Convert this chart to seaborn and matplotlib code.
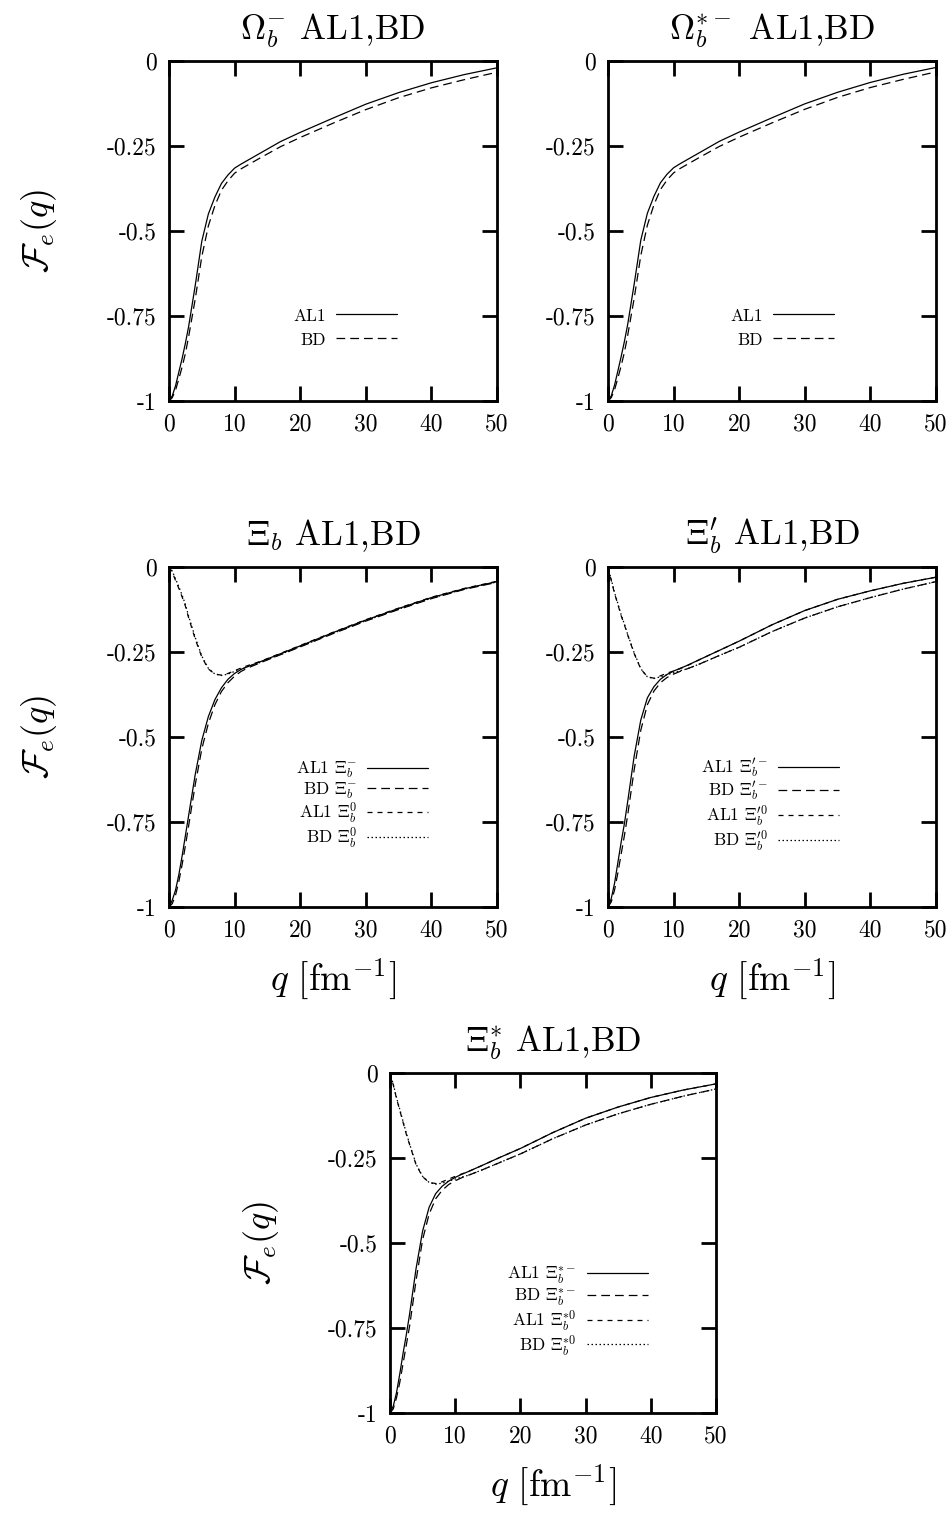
import matplotlib
matplotlib.use("Agg")
import matplotlib.pyplot as plt
import seaborn as sns

# momentum transfer grid
q = [0, 0.5, 1, 1.5, 2, 2.5, 3, 4, 5, 6, 7, 8, 9, 10, 11, 12, 14, 17, 20, 25, 30, 35, 40, 45, 50]

# Omega_b^-
omega_al1 = [-1, -0.985, -0.955, -0.915, -0.875, -0.83, -0.78, -0.66, -0.53, -0.45, -0.40, -0.36, -0.335,
             -0.315, -0.303, -0.292, -0.27, -0.237, -0.21, -0.168, -0.127, -0.093, -0.064, -0.04, -0.02]
omega_bd = [-1, -0.99, -0.968, -0.935, -0.90, -0.86, -0.81, -0.70, -0.575, -0.485, -0.425, -0.38, -0.352,
            -0.33, -0.317, -0.306, -0.284, -0.252, -0.225, -0.183, -0.143, -0.108, -0.079, -0.055, -0.033]

# Omega_b^*-
omegastar_al1 = [-1, -0.985, -0.953, -0.912, -0.87, -0.825, -0.775, -0.655, -0.527, -0.448, -0.398, -0.358, -0.333,
                 -0.314, -0.302, -0.291, -0.269, -0.236, -0.209, -0.167, -0.126, -0.092, -0.063, -0.039, -0.019]
omegastar_bd = [-1, -0.99, -0.967, -0.933, -0.897, -0.857, -0.807, -0.697, -0.572, -0.483, -0.423, -0.378, -0.35,
                -0.329, -0.316, -0.305, -0.283, -0.251, -0.224, -0.182, -0.142, -0.107, -0.078, -0.054, -0.032]

# Xi_b
xi_al1_m = [-1, -0.98, -0.95, -0.905, -0.85, -0.79, -0.73, -0.61, -0.51, -0.44, -0.39, -0.355, -0.33,
            -0.313, -0.301, -0.293, -0.278, -0.255, -0.232, -0.193, -0.156, -0.122, -0.09, -0.064, -0.043]
xi_bd_m = [-1, -0.99, -0.965, -0.925, -0.875, -0.82, -0.76, -0.64, -0.535, -0.46, -0.405, -0.366, -0.34,
           -0.321, -0.307, -0.297, -0.281, -0.258, -0.235, -0.196, -0.159, -0.125, -0.093, -0.066, -0.045]
xi_al1_0 = [0, -0.015, -0.04, -0.063, -0.088, -0.115, -0.15, -0.212, -0.265, -0.30, -0.315, -0.318, -0.313,
            -0.305, -0.297, -0.29, -0.277, -0.254, -0.231, -0.192, -0.155, -0.121, -0.089, -0.063, -0.042]
xi_bd_0 = [0, -0.012, -0.035, -0.058, -0.083, -0.11, -0.145, -0.207, -0.262, -0.298, -0.315, -0.319, -0.315,
           -0.307, -0.30, -0.293, -0.28, -0.257, -0.234, -0.195, -0.158, -0.124, -0.092, -0.065, -0.044]

# Xi_b'
xip_al1_m = [-1, -0.975, -0.93, -0.87, -0.81, -0.755, -0.69, -0.555, -0.45, -0.385, -0.352, -0.33, -0.316,
             -0.306, -0.298, -0.29, -0.272, -0.245, -0.218, -0.17, -0.128, -0.095, -0.07, -0.048, -0.03]
xip_bd_m = [-1, -0.985, -0.95, -0.90, -0.845, -0.79, -0.73, -0.595, -0.48, -0.405, -0.365, -0.34, -0.325,
            -0.315, -0.307, -0.30, -0.285, -0.26, -0.236, -0.19, -0.15, -0.117, -0.09, -0.065, -0.043]
xip_al1_0 = [0, -0.04, -0.078, -0.11, -0.143, -0.17, -0.20, -0.255, -0.30, -0.323, -0.327, -0.32, -0.312,
             -0.306, -0.299, -0.291, -0.272, -0.245, -0.218, -0.17, -0.128, -0.095, -0.07, -0.048, -0.03]
xip_bd_0 = [0, -0.037, -0.075, -0.107, -0.14, -0.168, -0.198, -0.253, -0.299, -0.323, -0.328, -0.323, -0.317,
            -0.311, -0.305, -0.30, -0.285, -0.26, -0.236, -0.19, -0.15, -0.117, -0.09, -0.065, -0.043]

# Xi_b^*
xis_al1_m = [-1, -0.98, -0.94, -0.885, -0.825, -0.77, -0.71, -0.575, -0.465, -0.395, -0.355, -0.333, -0.318,
             -0.307, -0.298, -0.29, -0.273, -0.247, -0.222, -0.175, -0.133, -0.10, -0.072, -0.05, -0.032]
xis_bd_m = [-1, -0.988, -0.955, -0.91, -0.855, -0.80, -0.745, -0.61, -0.49, -0.415, -0.37, -0.345, -0.328,
            -0.317, -0.308, -0.301, -0.286, -0.262, -0.238, -0.193, -0.153, -0.12, -0.092, -0.068, -0.047]
xis_al1_0 = [0, -0.035, -0.075, -0.11, -0.145, -0.18, -0.21, -0.27, -0.305, -0.322, -0.325, -0.32, -0.312,
             -0.304, -0.297, -0.29, -0.273, -0.247, -0.222, -0.175, -0.133, -0.10, -0.072, -0.05, -0.032]
xis_bd_0 = [0, -0.033, -0.072, -0.107, -0.142, -0.177, -0.208, -0.268, -0.304, -0.322, -0.327, -0.324, -0.318,
            -0.312, -0.306, -0.301, -0.286, -0.262, -0.238, -0.193, -0.153, -0.12, -0.092, -0.068, -0.047]

xticks = [0, 10, 20, 30, 40, 50]
yticks = [0, -0.25, -0.5, -0.75, -1]
ytick_labels = ["0", "-0.25", "-0.5", "-0.75", "-1"]

sns.set_style("ticks")
plt.rcParams["font.family"] = ["cmr10", "DejaVu Serif"]
plt.rcParams["mathtext.fontset"] = "cm"
plt.rcParams["axes.unicode_minus"] = False
for key in ["axes.edgecolor", "xtick.color", "ytick.color", "text.color", "axes.labelcolor"]:
    plt.rcParams[key] = "black"

solid = "-"
longdash = (0, (7, 4))
shortdash = (0, (4, 4))
dotted = (0, (1.2, 2))

W, H = 953, 1520
fig = plt.figure(figsize=(W / 100, H / 100), dpi=100)


def make_ax(left, top, width=328, height=340):
    return fig.add_axes([left / W, 1 - (top + height) / H, width / W, height / H])


def draw_panel(ax, title, series, leg_anchor, spacing, ylabel=False, xlabel=False):
    for vals, lab, ls in series:
        sns.lineplot(x=q, y=vals, ax=ax, color="black", lw=0.9, linestyle=ls, label=lab)
    ax.set_xlim(0, 50)
    ax.set_ylim(-1, 0)
    ax.set_xticks(xticks)
    ax.set_xticklabels([str(t) for t in xticks])
    ax.set_yticks(yticks)
    ax.set_yticklabels(ytick_labels)
    ax.tick_params(direction="in", length=11, width=2, top=True, right=True, labelsize=17,
                   color="black", labelcolor="black")
    ax.tick_params(axis="y", pad=9)
    ax.tick_params(axis="x", pad=9)
    for sp in ax.spines.values():
        sp.set_linewidth(2)
        sp.set_color("black")
        sp.set_visible(True)
    ax.set_title(title, fontsize=25, pad=16)
    ax.set_xlabel("")
    ax.set_ylabel("")
    if ylabel:
        ax.set_ylabel(r"$\mathcal{F}_e(q)$", fontsize=26)
        ax.yaxis.set_label_coords(-0.335, 0.5)
    if xlabel:
        ax.set_xlabel(r"$q\ [\mathrm{fm}^{-1}]$", fontsize=27)
        ax.xaxis.set_label_coords(0.5, -0.145)
    ax.legend(loc="center right", bbox_to_anchor=leg_anchor, frameon=False, markerfirst=False,
              fontsize=12.5, handlelength=3.5, handletextpad=0.6, labelspacing=spacing,
              borderpad=0, borderaxespad=0)


ax1 = make_ax(169, 61)
draw_panel(ax1, r"$\Omega_b^{-}$ AL1,BD",
           [(omega_al1, "AL1", solid), (omega_bd, "BD", longdash)],
           (0.695, 0.215), 0.5, ylabel=True)

ax2 = make_ax(608, 61)
draw_panel(ax2, r"$\Omega_b^{*-}$ AL1,BD",
           [(omegastar_al1, "AL1", solid), (omegastar_bd, "BD", longdash)],
           (0.689, 0.215), 0.5)

ax3 = make_ax(169, 567)
draw_panel(ax3, r"$\Xi_b$ AL1,BD",
           [(xi_al1_m, r"AL1 $\Xi_b^{-}$", solid), (xi_bd_m, r"BD $\Xi_b^{-}$", longdash),
            (xi_al1_0, r"AL1 $\Xi_b^{0}$", shortdash), (xi_bd_0, r"BD $\Xi_b^{0}$", dotted)],
           (0.79, 0.30), 0.0, ylabel=True, xlabel=True)

ax4 = make_ax(608, 567)
draw_panel(ax4, r"$\Xi_b'$ AL1,BD",
           [(xip_al1_m, r"AL1 $\Xi_b^{\prime -}$", solid), (xip_bd_m, r"BD $\Xi_b^{\prime -}$", longdash),
            (xip_al1_0, r"AL1 $\Xi_b^{\prime 0}$", shortdash), (xip_bd_0, r"BD $\Xi_b^{\prime 0}$", dotted)],
           (0.704, 0.30), 0.0, xlabel=True)

ax5 = make_ax(390, 1073, width=326)
draw_panel(ax5, r"$\Xi_b^{*}$ AL1,BD",
           [(xis_al1_m, r"AL1 $\Xi_b^{*-}$", solid), (xis_bd_m, r"BD $\Xi_b^{*-}$", longdash),
            (xis_al1_0, r"AL1 $\Xi_b^{*0}$", shortdash), (xis_bd_0, r"BD $\Xi_b^{*0}$", dotted)],
           (0.79, 0.30), 0.0, ylabel=True, xlabel=True)

fig.savefig("out.png", dpi=100)
